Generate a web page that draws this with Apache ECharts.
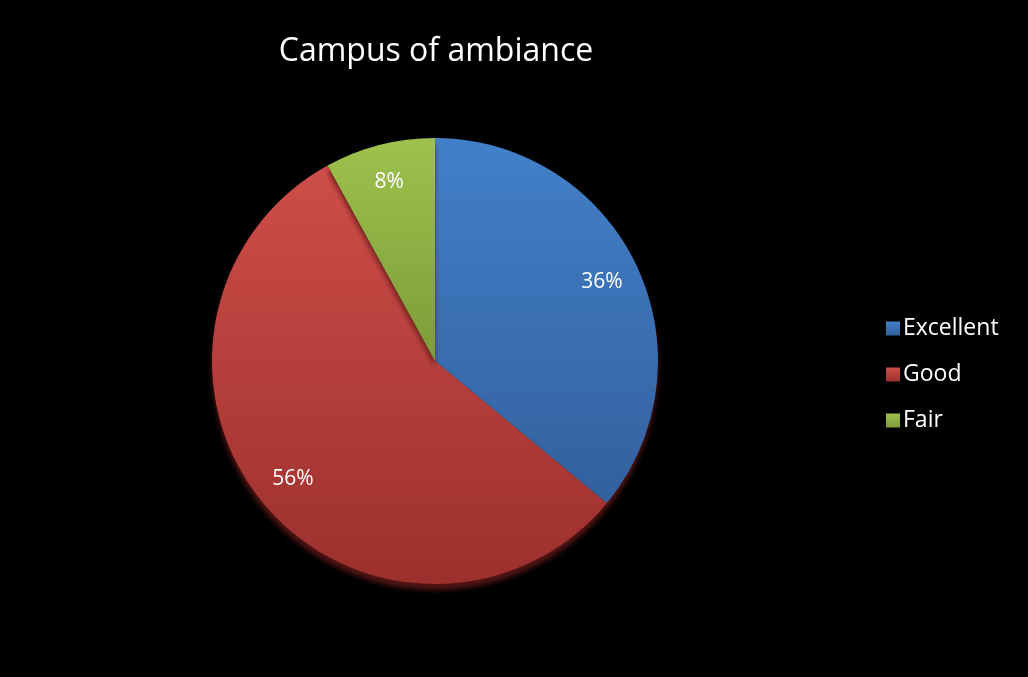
<!DOCTYPE html>
<html><head><meta charset="utf-8">
<script src="https://cdn.jsdelivr.net/npm/echarts@6/dist/echarts.min.js"></script>
<style>html,body{margin:0;padding:0;background:#000;}#c{width:1028px;height:677px;}</style>
</head><body><div id="c"></div>
<script>
const categories = ['Excellent', 'Good', 'Fair'];
const values = [36, 56, 8];
const titleText = 'Campus of ambiance';

const colorsTop = ['#4280c9', '#ce4d49', '#9dc24d'];
const colorsBot = ['#33609e', '#9c302d', '#7e9b39'];

function grad(i){
  return new echarts.graphic.LinearGradient(0,0,0,1,[
    {offset:0,color:colorsTop[i]},{offset:1,color:colorsBot[i]}]);
}
const chart = echarts.init(document.getElementById('c'), null, {renderer:'canvas'});
const center = [435, 361];
const R = 223;
chart.setOption({
  backgroundColor:'#000',
  title:{text:titleText,left:431,top:31,textAlign:'center',
    textStyle:{color:'#fff',fontSize:32,fontWeight:'normal',fontFamily:'Open Sans'}},
  legend:{orient:'vertical',left:881,top:312,itemWidth:14,itemHeight:14,itemGap:23,
    icon:'rect',data:categories,
    textStyle:{color:'#fff',fontSize:23,fontFamily:'Open Sans',padding:[0,0,0,-2]}},
  series:[
    {type:'pie',center:center,radius:[0,R],startAngle:90,clockwise:true,
     silent:true,label:{show:false},labelLine:{show:false},
     itemStyle:{shadowBlur:5,shadowOffsetY:6,shadowColor:'rgba(100,25,25,0.8)'},
     data:categories.map((n,i)=>({name:n,value:values[i],itemStyle:{color:grad(i)}}))},
    {type:'pie',center:center,radius:[140,R],startAngle:90,clockwise:true,
     silent:true,labelLine:{show:false},
     label:{show:true,position:'inside',color:'#fff',fontSize:21,fontFamily:'Open Sans',
       formatter:p=>p.value+'%'},
     itemStyle:{color:'rgba(0,0,0,0)'},
     data:categories.map((n,i)=>({name:n,value:values[i]}))}
  ]
});
</script></body></html>
